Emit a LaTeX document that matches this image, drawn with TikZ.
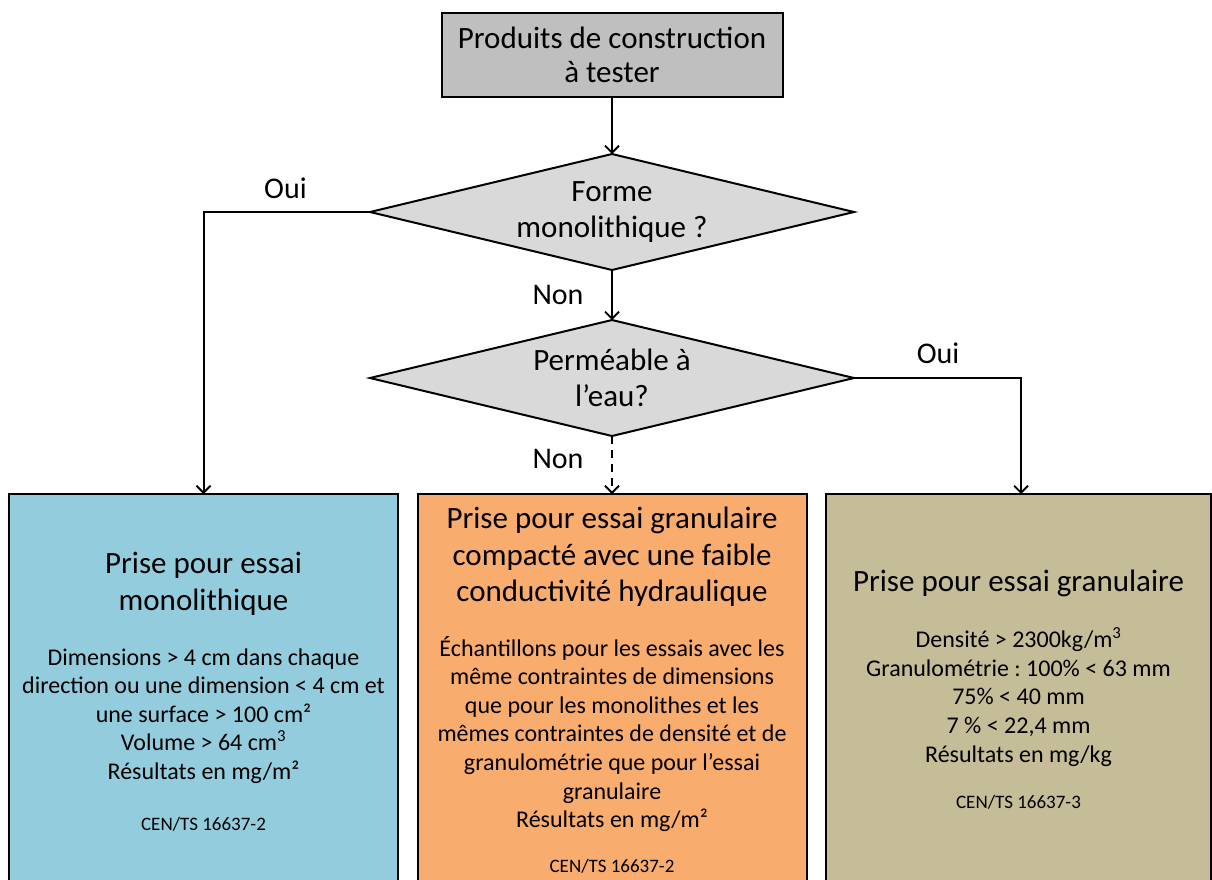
\documentclass[tikz,border=0pt]{standalone}
\usepackage{fontspec}
\setmainfont{Carlito}
\usetikzlibrary{arrows.meta,shapes.geometric}
\definecolor{topgray}{HTML}{BFBFBF}
\definecolor{diagray}{HTML}{D9D9D9}
\definecolor{bluebox}{HTML}{93CDDD}
\definecolor{orangebox}{HTML}{F8AC6E}
\definecolor{khakibox}{HTML}{C4BD97}
\frenchspacing
\begin{document}
\begin{tikzpicture}[x=1pt,y=-1pt,
  every node/.style={inner sep=0pt, outer sep=0pt},
  boxline/.style={draw=black, line width=2pt},
  decision/.style={boxline, diamond, fill=diagray, aspect=4.17, minimum width=484, minimum height=116, align=center, font=\fontsize{31}{36}\selectfont},
  resultbox/.style={boxline, anchor=north, minimum width=389, minimum height=420},
  titletext/.style={align=center, font=\fontsize{31}{36.5}\selectfont},
  bodytext/.style={align=center, font=\fontsize{24}{28.6}\selectfont},
  normtext/.style={align=center, font=\fontsize{19}{22}\selectfont},
  lbl/.style={font=\fontsize{30}{34}\selectfont},
  arr/.style={line width=2pt, -{Straight Barb[length=7pt,width=14pt,line width=1.8pt]}}
]
\useasboundingbox (0,0) rectangle (1212,879);
\fill[white] (0,0) rectangle (1212,879);
\begin{scope}
\clip (0,0) rectangle (1212,879);
\node[boxline, fill=topgray, minimum width=341, minimum height=84, align=center, font=\fontsize{31}{34}\selectfont] (start) at (612,55) {Produits de construction\\à tester};
\node[decision] (d1) at (612,212) {Forme\\monolithique ?};
\node[decision] (d2) at (612,378) {Perméable à\\l’eau?};
\node[resultbox, fill=bluebox] (left) at (203.5,494) {};
\node[resultbox, fill=orangebox] (mid) at (612,494) {};
\node[resultbox, fill=khakibox, minimum width=385] (right) at (1018.5,494) {};
\end{scope}

\node[titletext] (lt) at (203.5,584) {Prise pour essai\\monolithique};
\node[bodytext] (lb) at (203.5,716) {Dimensions > 4 cm dans chaque\\direction ou une dimension < 4 cm et\\une surface > 100 cm²\\Volume > 64 cm\textsuperscript{3}\\Résultats en mg/m²};
\node[normtext] (ln) at (203.5,824) {CEN/TS 16637-2};

\node[titletext] (mt) at (612,557) {Prise pour essai granulaire\\compacté avec une faible\\conductivité hydraulique};
\node[bodytext] (mb) at (612,734) {Échantillons pour les essais avec les\\même contraintes de dimensions\\que pour les monolithes et les\\mêmes contraintes de densité et de\\granulométrie que pour l’essai\\granulaire\\Résultats en mg/m²};
\node[normtext] (mn) at (612,866) {CEN/TS 16637-2};

\node[titletext] (rt) at (1018.5,583) {Prise pour essai granulaire};
\node[bodytext] (rb) at (1018.5,697) {Densité > 2300kg/m\textsuperscript{3}\\Granulométrie : 100\% < 63 mm\\75\% < 40 mm\\7 \% < 22,4 mm\\Résultats en mg/kg};
\node[normtext] (rn) at (1018.5,802) {CEN/TS 16637-3};

\node[lbl] (oui1) at (285.5,188) {Oui};
\node[lbl] (non1) at (558,295) {Non};
\node[lbl] (oui2) at (938,353) {Oui};
\node[lbl] (non2) at (558,459) {Non};

\draw[arr] (start.south) -- (d1.north);
\draw[arr] (d1.west) -| (left.north);
\draw[arr] (d1.south) -- (d2.north);
\draw[arr] (d2.east) -| ([xshift=2.5pt]right.north);
\draw[arr, dash pattern=on 8pt off 6pt] (d2.south) -- (mid.north);
\end{tikzpicture}
\end{document}
